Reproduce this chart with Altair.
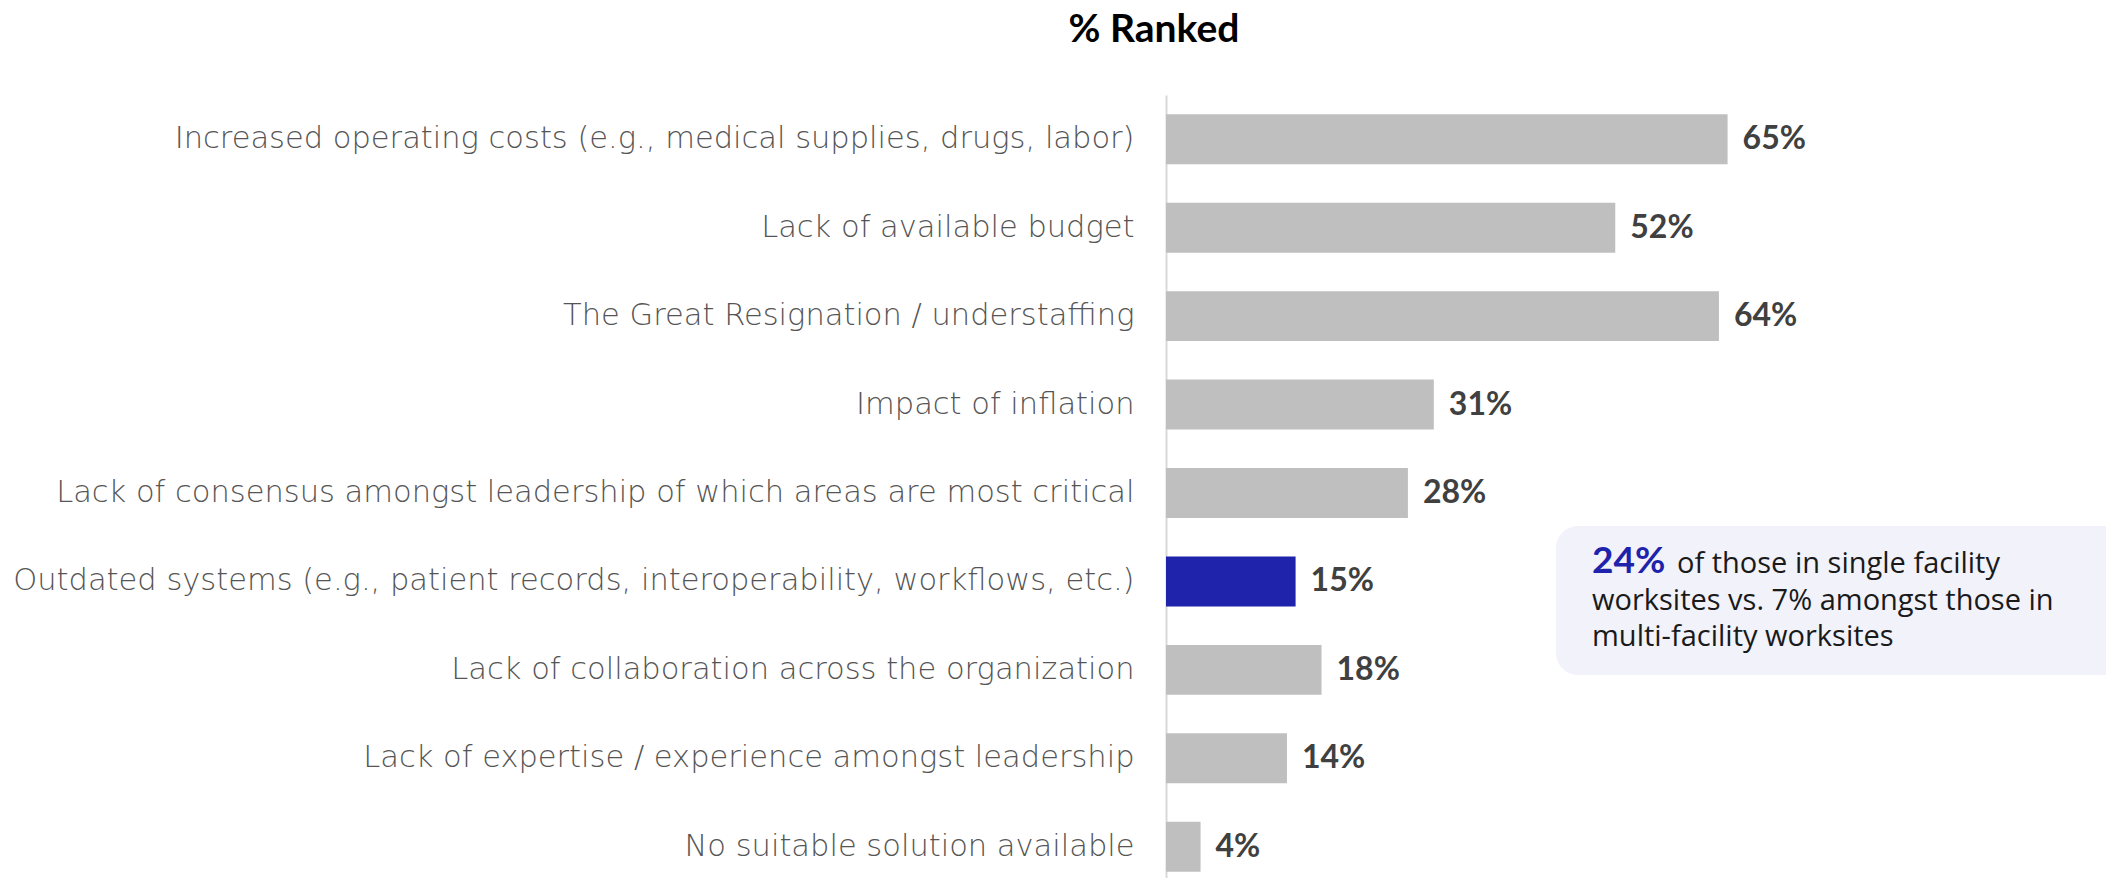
import altair as alt
import pandas as pd

categories = [
    "Increased operating costs (e.g., medical supplies, drugs, labor)",
    "Lack of available budget",
    "The Great Resignation / understaffing",
    "Impact of inflation",
    "Lack of consensus amongst leadership of which areas are most critical",
    "Outdated systems (e.g., patient records, interoperability, workflows, etc.)",
    "Lack of collaboration across the organization",
    "Lack of expertise / experience amongst leadership",
    "No suitable solution available",
]
values = [65, 52, 64, 31, 28, 15, 18, 14, 4]
highlight = [False, False, False, False, False, True, False, False, False]
value_labels = [f"{v}%" for v in values]

title_text = "% Ranked"
note_big = "24%"
note_line1 = "of those in single facility"
note_line2 = "worksites vs. 7% amongst those in"
note_line3 = "multi-facility worksites"

df = pd.DataFrame({
    "category": categories,
    "value": values,
    "highlight": highlight,
    "label": value_labels,
})

W = 940
H = 783

y_enc = alt.Y(
    "category:N",
    sort=None,
    scale=alt.Scale(range=[0, 796], paddingInner=0.435, paddingOuter=0.2175),
    axis=alt.Axis(
        title=None,
        ticks=False,
        domainColor="#D9D9D9",
        domainWidth=2,
        labelPadding=32,
        labelLimit=0,
        labelFontSize=30.5,
        labelFont="DejaVu Sans",
        labelFontWeight=200,
        labelColor="#555555",
    ),
)
x_enc = alt.X("value:Q", scale=alt.Scale(domain=[0, 108.8], nice=False, zero=True), axis=None)

base = alt.Chart(df)

bars = base.mark_bar().encode(
    y=y_enc,
    x=x_enc,
    color=alt.Color(
        "highlight:N",
        scale=alt.Scale(domain=[False, True], range=["#BFBFBF", "#1F22AA"]),
        legend=None,
    ),
)

labels = base.mark_text(
    align="left", baseline="middle", dx=15, font="Lato", fontSize=32,
    fontWeight="bold", color="#404040",
).encode(y=alt.Y("category:N", sort=None), x="value:Q", text="label:N")

title = alt.Chart(pd.DataFrame({"t": [title_text]})).mark_text(
    align="center", baseline="middle", font="Lato", fontSize=39,
    fontWeight="bold", color="#000000",
).encode(x=alt.value(-12), y=alt.value(-65), text="t:N")

box = alt.Chart(pd.DataFrame({"a": [0]})).mark_rect(
    color="#F1F2FA", cornerRadius=22,
).encode(x=alt.value(390), x2=alt.value(990), y=alt.value(431), y2=alt.value(580))

big = alt.Chart(pd.DataFrame({"t": [note_big]})).mark_text(
    align="left", baseline="middle", font="Lato", fontSize=37,
    fontWeight="bold", color="#1F22AA",
).encode(x=alt.value(426), y=alt.value(467), text="t:N")

notes_df = pd.DataFrame({
    "t": [note_line1, note_line2, note_line3],
    "px": [511, 426, 426],
    "py": [469, 506, 542],
})
notes = alt.Chart(notes_df).mark_text(
    align="left", baseline="middle", font="Open Sans", fontSize=29, color="#1A1A1A",
).encode(
    x=alt.X("px:Q", scale=None), y=alt.Y("py:Q", scale=None), text="t:N"
)

chart = alt.layer(bars, labels, title, box, big, notes).properties(
    width=W, height=H,
    autosize=alt.AutoSizeParams(type="none"),
    padding={"left": 1158, "top": 87, "right": 0, "bottom": 0},
).configure_view(stroke=None)

chart.save("out.html", embed_options={"renderer": "svg", "actions": False})
